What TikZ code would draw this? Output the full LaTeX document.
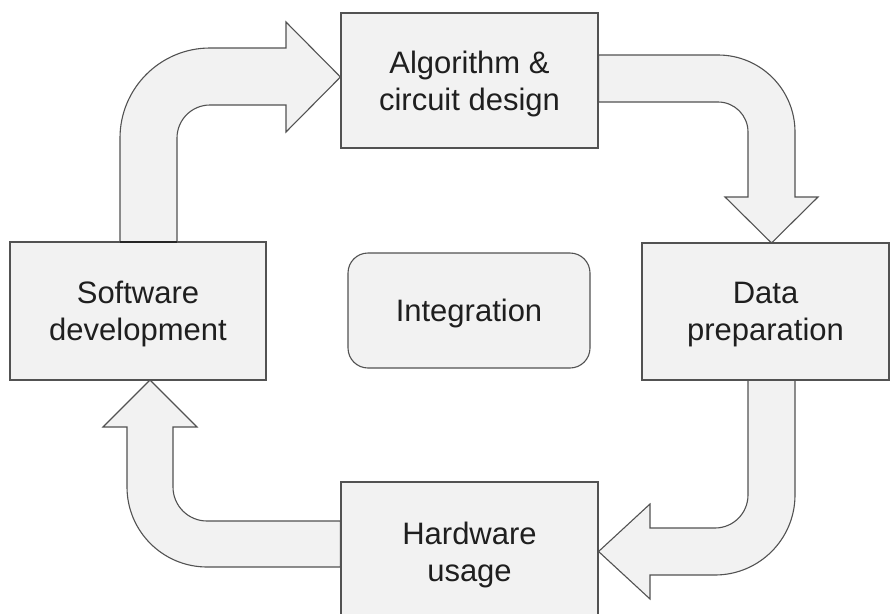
\documentclass[tikz,border=0pt]{standalone}
\usepackage{fontspec}
\setmainfont{Liberation Sans}
\begin{document}
\begin{tikzpicture}[x=1pt,y=-1pt,
  edgecol/.style={draw=black!68, line width=1.1pt},
  stage/.style={edgecol, fill=black!5, rectangle, align=center,
    text=black!88, inner sep=0pt, text depth=0pt,
    font=\fontsize{31}{37}\selectfont},
  hub/.style={stage, rounded corners=20pt},
  blockarrow/.style={edgecol, fill=black!5, line join=miter}]
\useasboundingbox (0,0) rectangle (891,613);

% stages of the cycle
\node[stage, minimum width=257pt, minimum height=135pt] (algo) at (469.5,80.5) {Algorithm \&\\circuit design};
\node[stage, minimum width=256pt, minimum height=138pt] (soft) at (138,311) {Software\\development};
\node[stage, minimum width=247pt, minimum height=137pt] (data) at (765.5,311.5) {Data\\preparation};
\node[stage, minimum width=257pt, minimum height=139pt] (hard) at (469.5,551.5) {Hardware\\usage};
\node[hub, minimum width=242pt, minimum height=115pt] (integ) at (469,310.5) {Integration};

% bent block arrows between the stages
\draw[blockarrow] (120,242) -- (120,138) arc[start angle=180,end angle=270,radius=90]
  -- (286,48) -- (286,22) -- (algo.west |- 0,77) -- (286,132) -- (286,105) -- (210,105)
  arc[start angle=270,end angle=180,radius=33] -- (177,242) -- cycle;
\draw[blockarrow] (algo.east |- 0,55) -- (718,55) arc[start angle=270,end angle=360,radius=77]
  -- (795,197) -- (818,197) -- (771.5,243) -- (725,197) -- (748,197) -- (748,132)
  arc[start angle=0,end angle=-90,radius=30] -- (algo.east |- 0,102) -- cycle;
\draw[blockarrow] (748,380) -- (748,495) arc[start angle=0,end angle=90,radius=33]
  -- (650,528) -- (650,504) -- (hard.east |- 0,551.5) -- (650,599) -- (650,575) -- (715,575)
  arc[start angle=90,end angle=0,radius=80] -- (795,380) -- cycle;
\draw[blockarrow] (hard.west |- 0,521) -- (207,521) arc[start angle=90,end angle=180,radius=34]
  -- (173,427) -- (197,427) -- (150,380) -- (103,427) -- (127,427) -- (127,487)
  arc[start angle=180,end angle=90,radius=80] -- (hard.west |- 0,567) -- cycle;

% redraw the stage borders over the arrow ends
\foreach \n in {algo,soft,data,hard}
  \draw[edgecol] (\n.south west) rectangle (\n.north east);
\draw[black!85, line width=1.8pt] (120,242) -- (177,242);
\end{tikzpicture}
\end{document}
